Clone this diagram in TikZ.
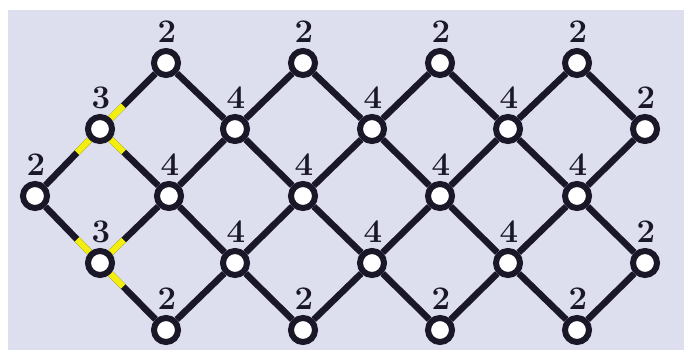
\documentclass[tikz,border=0pt]{standalone}
\usepackage{fontspec}
\usetikzlibrary{calc}
\definecolor{bg}{HTML}{DDDEEE}
\definecolor{ink}{HTML}{1A1828}
\definecolor{hl}{HTML}{F2EE10}
\pgfdeclarelayer{bgl}
\pgfdeclarelayer{edgel}
\pgfsetlayers{bgl,edgel,main}
\begin{document}
\begin{tikzpicture}[x=1pt,y=-1pt,
  vert/.style={circle,draw=ink,fill=white,line width=6pt,minimum size=24pt,inner sep=0pt},
  edge/.style={draw=ink,line width=6.5pt},
  mark3/.style={draw=hl,line width=6.5pt},
  lbl/.style={font=\fontsize{33}{33}\selectfont\bfseries,text=ink,inner sep=0pt}]
\useasboundingbox (0,0) rectangle (684,350);
\begin{pgfonlayer}{bgl}
\fill[white] (0,0) rectangle (684,350);
\fill[bg] (8,10) rectangle (684,350);
\end{pgfonlayer}
% vertices
\node[vert] (A2) at (166,63) {};
\node[vert] (A4) at (303,63) {};
\node[vert] (A6) at (440,63) {};
\node[vert] (A8) at (577,63) {};
\node[vert] (B1) at (100,129) {};
\node[vert] (B3) at (235,129) {};
\node[vert] (B5) at (372,129) {};
\node[vert] (B7) at (508,129) {};
\node[vert] (B9) at (645,129) {};
\node[vert] (C0) at (35,196) {};
\node[vert] (C2) at (169,196) {};
\node[vert] (C4) at (303,196) {};
\node[vert] (C6) at (440,196) {};
\node[vert] (C8) at (577,196) {};
\node[vert] (D1) at (100,263) {};
\node[vert] (D3) at (235,263) {};
\node[vert] (D5) at (372,263) {};
\node[vert] (D7) at (508,263) {};
\node[vert] (D9) at (645,263) {};
\node[vert] (E2) at (166,330) {};
\node[vert] (E4) at (303,330) {};
\node[vert] (E6) at (440,330) {};
\node[vert] (E8) at (577,330) {};
% labels
\foreach \n/\t in {A2/2,A4/2,A6/2,A8/2,B1/3,B3/4,B5/4,B7/4,B9/2,C0/2,C2/4,C4/4,C6/4,C8/4,D1/3,D3/4,D5/4,D7/4,D9/2,E2/2,E4/2,E6/2,E8/2}
  \node[lbl] (l\n) at ($(\n)+(1,-31)$) {\t};
% edges
\begin{pgfonlayer}{edgel}
\foreach \a/\b in {A2/B1,A2/B3,A4/B3,A4/B5,A6/B5,A6/B7,A8/B7,A8/B9,
  B1/C0,B1/C2,B3/C2,B3/C4,B5/C4,B5/C6,B7/C6,B7/C8,B9/C8,
  C0/D1,C2/D1,C2/D3,C4/D3,C4/D5,C6/D5,C6/D7,C8/D7,C8/D9,
  D1/E2,D3/E2,D3/E4,D5/E4,D5/E6,D7/E6,D7/E8,D9/E8}
  \draw[edge] (\a) -- (\b);
\foreach \a/\b in {B1/A2,B1/C0,B1/C2,D1/C0,D1/C2,D1/E2}
  \draw[mark3] (\a) -- ($(\a)!33pt!(\b)$);
\end{pgfonlayer}
\end{tikzpicture}
\end{document}
